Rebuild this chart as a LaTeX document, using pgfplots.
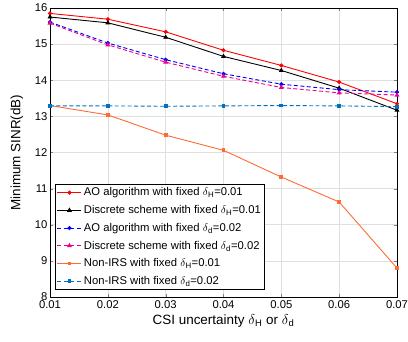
\documentclass[border=0pt]{standalone}
\usepackage{fontspec}
\setmainfont{Liberation Sans}
\usepackage{pgfplots}
\pgfplotsset{compat=1.18}
\definecolor{morange}{rgb}{1,0.42,0.2}
\definecolor{mblue}{rgb}{0,0.447,0.741}
\newcommand{\dH}{$\delta$\textsubscript{H}}
\newcommand{\dd}{$\delta$\textsubscript{d}}
\begin{document}
\begin{tikzpicture}
\begin{axis}[
  scale only axis, width=347bp, height=289bp,
  xmin=0.01, xmax=0.07, ymin=8, ymax=16,
  xtick={0.01,0.02,0.03,0.04,0.05,0.06,0.07},
  xticklabels={0.01,0.02,0.03,0.04,0.05,0.06,0.07},
  scaled x ticks=false,
  ytick={8,9,10,11,12,13,14,15,16},
  /pgf/number format/assume math mode=true,
  tick label style={font=\fontsize{11.3}{13}\selectfont},
  yticklabel style={xshift=1pt},
  label style={font=\fontsize{13.5}{15}\selectfont},
  xlabel={CSI uncertainty \dH{} or \dd},
  ylabel={Minimum SINR(dB)},
  xlabel style={yshift=1pt},
  ylabel style={yshift=5pt},
  grid=major, major grid style={gray!25, line width=0.6pt},
  tick align=inside, major tick length=3pt,
  axis line style={black, line width=0.6pt},
  legend style={at={(0.015,0.025)}, anchor=south west, font=\fontsize{11.3}{13}\selectfont,
    draw=black, line width=0.5pt, row sep=4.1pt, inner sep=1.5pt, cells={anchor=west}},
  legend image code/.code={\draw[#1] (0cm,0cm) -- (0.85cm,0cm); \draw[#1, mark repeat=1] plot coordinates {(0.425cm,0cm)};},
]
\addplot[red, line width=0.9pt, mark=*, mark size=1.6pt] coordinates {
(0.01,15.85) (0.02,15.69) (0.03,15.34) (0.04,14.83) (0.05,14.41) (0.06,13.95) (0.07,13.35)};
\addlegendentry{AO algorithm with fixed \dH=0.01}
\addplot[black, line width=0.9pt, mark=triangle*, mark size=2pt] coordinates {
(0.01,15.75) (0.02,15.59) (0.03,15.19) (0.04,14.66) (0.05,14.27) (0.06,13.78) (0.07,13.17)};
\addlegendentry{Discrete scheme with fixed \dH=0.01}
\addplot[blue, line width=0.9pt, dash pattern=on 4pt off 2.5pt, mark=*, mark size=1.6pt, mark options={solid}] coordinates {
(0.01,15.61) (0.02,15.03) (0.03,14.57) (0.04,14.18) (0.05,13.89) (0.06,13.74) (0.07,13.67)};
\addlegendentry{AO algorithm with fixed \dd=0.02}
\addplot[magenta, line width=0.9pt, dash pattern=on 4pt off 2.5pt, mark=triangle*, mark size=2pt, mark options={solid}] coordinates {
(0.01,15.58) (0.02,14.98) (0.03,14.50) (0.04,14.11) (0.05,13.80) (0.06,13.65) (0.07,13.59)};
\addlegendentry{Discrete scheme with fixed \dd=0.02}
\addplot[morange, line width=0.9pt, mark=square*, mark size=1.4pt] coordinates {
(0.01,13.30) (0.02,13.04) (0.03,12.48) (0.04,12.06) (0.05,11.32) (0.06,10.63) (0.07,8.80)};
\addlegendentry{Non-IRS with fixed \dH=0.01}
\addplot[mblue, line width=0.9pt, dash pattern=on 4pt off 2.5pt, mark=square*, mark size=1.4pt, mark options={solid}] coordinates {
(0.01,13.29) (0.02,13.29) (0.03,13.28) (0.04,13.29) (0.05,13.30) (0.06,13.29) (0.07,13.27)};
\addlegendentry{Non-IRS with fixed \dd=0.02}
\end{axis}
\pgfresetboundingbox
\useasboundingbox (-50bp,-45bp) rectangle (358bp,297bp);
\end{tikzpicture}
\end{document}
